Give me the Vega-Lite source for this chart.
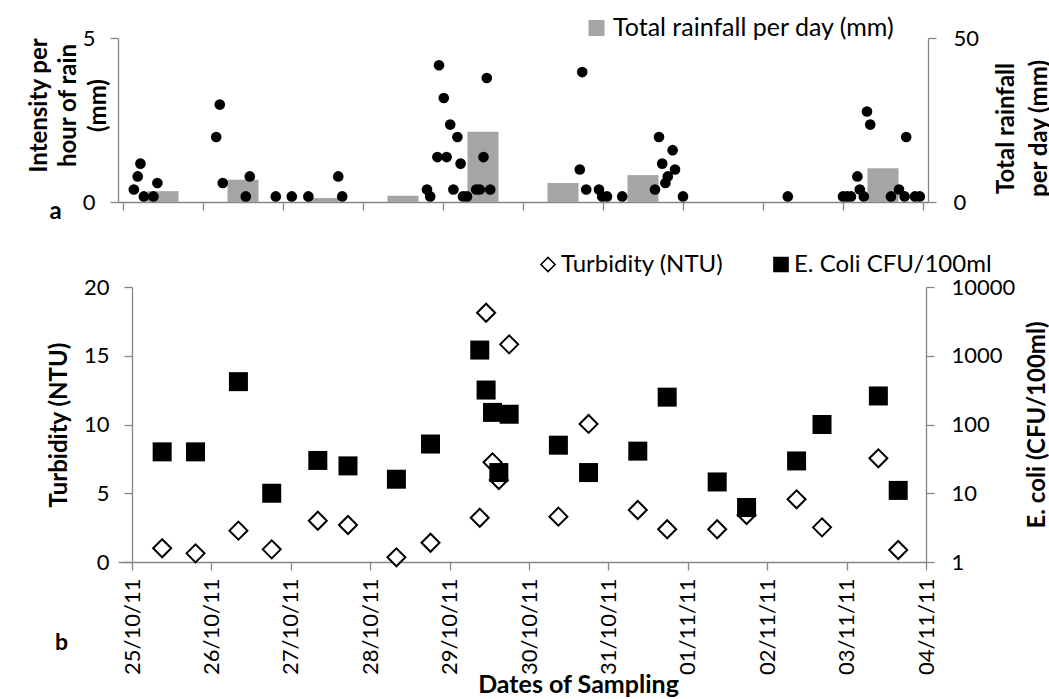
{
  "$schema": "https://vega.github.io/schema/vega-lite/v6.json",
  "padding": {"left": 27, "top": 15, "right": 0, "bottom": 0},
  "spacing": 29,
  "resolve": {"legend": {"color": "independent", "shape": "independent", "fill": "independent", "stroke": "independent"}},
  "datasets": {
    "rain": [
      {"date":"2011-10-25T03:15","intensity":0.38},
      {"date":"2011-10-25T04:25","intensity":0.78},
      {"date":"2011-10-25T05:14","intensity":1.17},
      {"date":"2011-10-25T06:15","intensity":0.17},
      {"date":"2011-10-25T09:07","intensity":0.17},
      {"date":"2011-10-25T10:19","intensity":0.58},
      {"date":"2011-10-26T03:58","intensity":1.98},
      {"date":"2011-10-26T05:02","intensity":2.97},
      {"date":"2011-10-26T05:56","intensity":0.58},
      {"date":"2011-10-26T12:50","intensity":0.17},
      {"date":"2011-10-26T14:02","intensity":0.78},
      {"date":"2011-10-26T21:50","intensity":0.17},
      {"date":"2011-10-27T02:38","intensity":0.17},
      {"date":"2011-10-27T07:36","intensity":0.17},
      {"date":"2011-10-27T16:34","intensity":0.78},
      {"date":"2011-10-27T17:46","intensity":0.17},
      {"date":"2011-10-28T19:12","intensity":0.38},
      {"date":"2011-10-28T20:10","intensity":0.17},
      {"date":"2011-10-28T22:19","intensity":1.37},
      {"date":"2011-10-28T22:48","intensity":4.17},
      {"date":"2011-10-29T00:14","intensity":3.17},
      {"date":"2011-10-29T01:05","intensity":1.37},
      {"date":"2011-10-29T02:10","intensity":2.36},
      {"date":"2011-10-29T03:07","intensity":0.38},
      {"date":"2011-10-29T04:19","intensity":1.98},
      {"date":"2011-10-29T05:17","intensity":1.17},
      {"date":"2011-10-29T06:00","intensity":0.17},
      {"date":"2011-10-29T07:12","intensity":0.17},
      {"date":"2011-10-29T09:58","intensity":0.38},
      {"date":"2011-10-29T11:02","intensity":0.38},
      {"date":"2011-10-29T12:09","intensity":1.37},
      {"date":"2011-10-29T13:08","intensity":3.78},
      {"date":"2011-10-29T14:10","intensity":0.38},
      {"date":"2011-10-30T17:02","intensity":0.99},
      {"date":"2011-10-30T17:46","intensity":3.96},
      {"date":"2011-10-30T18:58","intensity":0.38},
      {"date":"2011-10-30T22:48","intensity":0.38},
      {"date":"2011-10-30T23:46","intensity":0.17},
      {"date":"2011-10-31T01:12","intensity":0.17},
      {"date":"2011-10-31T05:46","intensity":0.17},
      {"date":"2011-10-31T15:36","intensity":0.38},
      {"date":"2011-10-31T16:48","intensity":1.98},
      {"date":"2011-10-31T17:46","intensity":1.17},
      {"date":"2011-10-31T18:43","intensity":0.58},
      {"date":"2011-10-31T19:26","intensity":0.78},
      {"date":"2011-10-31T20:53","intensity":1.58},
      {"date":"2011-10-31T21:36","intensity":0.99},
      {"date":"2011-11-01T00:00","intensity":0.17},
      {"date":"2011-11-02T07:26","intensity":0.17},
      {"date":"2011-11-03T00:00","intensity":0.17},
      {"date":"2011-11-03T01:12","intensity":0.17},
      {"date":"2011-11-03T02:24","intensity":0.17},
      {"date":"2011-11-03T04:19","intensity":0.78},
      {"date":"2011-11-03T05:02","intensity":0.38},
      {"date":"2011-11-03T06:14","intensity":0.17},
      {"date":"2011-11-03T07:12","intensity":2.76},
      {"date":"2011-11-03T08:10","intensity":2.36},
      {"date":"2011-11-03T14:24","intensity":0.17},
      {"date":"2011-11-03T16:48","intensity":0.38},
      {"date":"2011-11-03T18:29","intensity":0.17},
      {"date":"2011-11-03T18:58","intensity":1.98},
      {"date":"2011-11-03T21:36","intensity":0.17},
      {"date":"2011-11-03T23:02","intensity":0.17}
    ],
    "daily": [
      {"date":"2011-10-25T12:00","total":3.3},
      {"date":"2011-10-26T12:00","total":6.8},
      {"date":"2011-10-27T12:00","total":1.2},
      {"date":"2011-10-28T12:00","total":1.9},
      {"date":"2011-10-29T12:00","total":21.4},
      {"date":"2011-10-30T12:00","total":5.8},
      {"date":"2011-10-31T12:00","total":8.2},
      {"date":"2011-11-01T12:00","total":0},
      {"date":"2011-11-02T12:00","total":0},
      {"date":"2011-11-03T12:00","total":10.3}
    ],
    "samples": [
      {"date":"2011-10-25T09:07","series":"Turbidity (NTU)","value":1.0},
      {"date":"2011-10-25T19:12","series":"Turbidity (NTU)","value":0.63},
      {"date":"2011-10-26T08:10","series":"Turbidity (NTU)","value":2.28},
      {"date":"2011-10-26T18:14","series":"Turbidity (NTU)","value":0.92},
      {"date":"2011-10-27T08:10","series":"Turbidity (NTU)","value":3.0},
      {"date":"2011-10-27T17:17","series":"Turbidity (NTU)","value":2.69},
      {"date":"2011-10-28T07:55","series":"Turbidity (NTU)","value":0.34},
      {"date":"2011-10-28T18:14","series":"Turbidity (NTU)","value":1.4},
      {"date":"2011-10-29T09:07","series":"Turbidity (NTU)","value":3.22},
      {"date":"2011-10-29T11:02","series":"Turbidity (NTU)","value":18.13},
      {"date":"2011-10-29T12:58","series":"Turbidity (NTU)","value":7.25},
      {"date":"2011-10-29T14:53","series":"Turbidity (NTU)","value":5.96},
      {"date":"2011-10-29T18:00","series":"Turbidity (NTU)","value":15.83},
      {"date":"2011-10-30T08:53","series":"Turbidity (NTU)","value":3.3},
      {"date":"2011-10-30T18:00","series":"Turbidity (NTU)","value":10.04},
      {"date":"2011-10-31T08:53","series":"Turbidity (NTU)","value":3.78},
      {"date":"2011-10-31T17:46","series":"Turbidity (NTU)","value":2.38},
      {"date":"2011-11-01T08:53","series":"Turbidity (NTU)","value":2.38},
      {"date":"2011-11-01T17:46","series":"Turbidity (NTU)","value":3.42},
      {"date":"2011-11-02T08:53","series":"Turbidity (NTU)","value":4.56},
      {"date":"2011-11-02T16:34","series":"Turbidity (NTU)","value":2.52},
      {"date":"2011-11-03T09:36","series":"Turbidity (NTU)","value":7.54},
      {"date":"2011-11-03T15:36","series":"Turbidity (NTU)","value":0.87},
      {"date":"2011-10-25T09:07","series":"E. Coli CFU/100ml","value":40},
      {"date":"2011-10-25T19:12","series":"E. Coli CFU/100ml","value":40},
      {"date":"2011-10-26T08:10","series":"E. Coli CFU/100ml","value":420},
      {"date":"2011-10-26T18:14","series":"E. Coli CFU/100ml","value":10},
      {"date":"2011-10-27T08:10","series":"E. Coli CFU/100ml","value":30},
      {"date":"2011-10-27T17:17","series":"E. Coli CFU/100ml","value":25},
      {"date":"2011-10-28T07:55","series":"E. Coli CFU/100ml","value":16},
      {"date":"2011-10-28T18:14","series":"E. Coli CFU/100ml","value":52},
      {"date":"2011-10-29T09:07","series":"E. Coli CFU/100ml","value":1210},
      {"date":"2011-10-29T11:02","series":"E. Coli CFU/100ml","value":317},
      {"date":"2011-10-29T12:58","series":"E. Coli CFU/100ml","value":150},
      {"date":"2011-10-29T14:53","series":"E. Coli CFU/100ml","value":20},
      {"date":"2011-10-29T18:00","series":"E. Coli CFU/100ml","value":141},
      {"date":"2011-10-30T08:53","series":"E. Coli CFU/100ml","value":50},
      {"date":"2011-10-30T18:00","series":"E. Coli CFU/100ml","value":20},
      {"date":"2011-10-31T08:53","series":"E. Coli CFU/100ml","value":41},
      {"date":"2011-10-31T17:46","series":"E. Coli CFU/100ml","value":250},
      {"date":"2011-11-01T08:53","series":"E. Coli CFU/100ml","value":14.6},
      {"date":"2011-11-01T17:46","series":"E. Coli CFU/100ml","value":6.2},
      {"date":"2011-11-02T08:53","series":"E. Coli CFU/100ml","value":29.5},
      {"date":"2011-11-02T16:34","series":"E. Coli CFU/100ml","value":100},
      {"date":"2011-11-03T09:36","series":"E. Coli CFU/100ml","value":260},
      {"date":"2011-11-03T15:36","series":"E. Coli CFU/100ml","value":11}
    ]
  },
  "vconcat": [
    {
      "width": 810,
      "height": 164,
      "encoding": {
        "x": {
          "field": "date", "type": "temporal",
          "scale": {"domain": [{"year":2011,"month":10,"date":25},{"year":2011,"month":11,"date":4}]},
          "axis": {
            "values": [{"year":2011,"month":10,"date":25},{"year":2011,"month":10,"date":26},{"year":2011,"month":10,"date":27},{"year":2011,"month":10,"date":28},{"year":2011,"month":10,"date":29},{"year":2011,"month":10,"date":30},{"year":2011,"month":10,"date":31},{"year":2011,"month":11,"date":1},{"year":2011,"month":11,"date":2},{"year":2011,"month":11,"date":3},{"year":2011,"month":11,"date":4}],
            "labels": false,
            "title": "a", "titleX": -63, "titleY": 16, "titleAngle": 0,
            "titleAlign": "center", "titleBaseline": "alphabetic", "titleFontSize": 24
          }
        }
      },
      "layer": [
        {
          "data": {"name": "daily"},
          "mark": {"type": "bar", "size": 31},
          "encoding": {
            "y": {
              "field": "total", "type": "quantitative",
              "scale": {"domain": [0, 50]},
              "axis": {
                "orient": "right", "values": [0, 50], "labelPadding": 17,
                "title": ["Total rainfall", "per day (mm)"],
                "titleAngle": 270, "titleBaseline": "alphabetic", "titleAlign": "center",
                "titleLineHeight": 33, "titleX": 85, "titleY": 90
              }
            },
            "color": {
              "datum": "Total rainfall per day (mm)",
              "scale": {"range": ["#A5A5A5"]},
              "legend": {
                "orient": "none", "legendX": 466, "legendY": -22.5, "title": null,
                "symbolType": "square", "symbolSize": 256, "labelOffset": 4,
                "labelFontSize": 25, "labelColor": "#000000", "labelFont": "Lato", "labelLimit": 0
              }
            }
          }
        },
        {
          "data": {"name": "rain"},
          "mark": {"type": "circle", "size": 113, "color": "#000000", "opacity": 1},
          "encoding": {
            "y": {
              "field": "intensity", "type": "quantitative",
              "scale": {"domain": [0, 5]},
              "axis": {
                "orient": "left", "values": [0, 5], "labelPadding": 15,
                "title": ["Intensity per", "hour of rain", "(mm)"],
                "titleAngle": 270, "titleBaseline": "alphabetic", "titleAlign": "center",
                "titleLineHeight": 29.5, "titleX": -72, "titleY": 67
              }
            }
          }
        }
      ],
      "resolve": {"scale": {"y": "independent"}}
    },
    {
      "width": 808,
      "height": 275,
      "data": {"name": "samples"},
      "title": {
        "text": "b", "orient": "bottom", "anchor": "start", "frame": "group",
        "dx": -56.5, "offset": -47, "fontSize": 23, "fontWeight": "bold",
        "baseline": "alphabetic", "align": "center", "font": "Lato", "color": "#000000"
      },
      "encoding": {
        "x": {
          "field": "date", "type": "temporal",
          "scale": {"domain": [{"year":2011,"month":10,"date":24,"hours":19,"minutes":46},{"year":2011,"month":11,"date":4}]},
          "axis": {
            "values": [{"year":2011,"month":10,"date":25},{"year":2011,"month":10,"date":26},{"year":2011,"month":10,"date":27},{"year":2011,"month":10,"date":28},{"year":2011,"month":10,"date":29},{"year":2011,"month":10,"date":30},{"year":2011,"month":10,"date":31},{"year":2011,"month":11,"date":1},{"year":2011,"month":11,"date":2},{"year":2011,"month":11,"date":3},{"year":2011,"month":11,"date":4}],
            "format": "%d/%m/%y", "labelAngle": 270, "labelPadding": 8,
            "title": "Dates of Sampling", "titleX": 460, "titleY": 130,
            "titleBaseline": "alphabetic", "titleAlign": "center", "titleFontSize": 25
          }
        },
        "shape": {
          "field": "series", "type": "nominal",
          "scale": {"domain": ["Turbidity (NTU)", "E. Coli CFU/100ml"], "range": ["diamond", "square"]},
          "legend": {
            "orient": "none", "legendX": 418, "legendY": -34.5, "direction": "horizontal",
            "title": null, "symbolSize": 200, "labelFontSize": 24, "labelOffset": 1,
            "columnPadding": 45, "symbolStrokeWidth": 1.5,
            "labelColor": "#000000", "labelFont": "Lato", "labelLimit": 0
          }
        },
        "fill": {
          "field": "series", "type": "nominal",
          "scale": {"domain": ["Turbidity (NTU)", "E. Coli CFU/100ml"], "range": ["#ffffff", "#000000"]},
          "legend": {
            "orient": "none", "legendX": 418, "legendY": -34.5, "direction": "horizontal",
            "title": null, "symbolSize": 200, "labelFontSize": 24, "labelOffset": 1,
            "columnPadding": 45, "symbolStrokeWidth": 1.5,
            "labelColor": "#000000", "labelFont": "Lato", "labelLimit": 0
          }
        },
        "stroke": {
          "field": "series", "type": "nominal",
          "scale": {"domain": ["Turbidity (NTU)", "E. Coli CFU/100ml"], "range": ["#000000", "#000000"]},
          "legend": {
            "orient": "none", "legendX": 418, "legendY": -34.5, "direction": "horizontal",
            "title": null, "symbolSize": 200, "labelFontSize": 24, "labelOffset": 1,
            "columnPadding": 45, "symbolStrokeWidth": 1.5,
            "labelColor": "#000000", "labelFont": "Lato", "labelLimit": 0
          }
        }
      },
      "layer": [
        {
          "transform": [{"filter": "datum.series === 'Turbidity (NTU)'"}],
          "mark": {"type": "point", "filled": true, "size": 324, "strokeWidth": 2, "opacity": 1},
          "encoding": {
            "y": {
              "field": "value", "type": "quantitative",
              "scale": {"domain": [0, 20]},
              "axis": {
                "orient": "left", "offset": -14, "values": [0, 5, 10, 15, 20], "labelPadding": 15,
                "title": "Turbidity (NTU)",
                "titleAngle": 270, "titleBaseline": "alphabetic", "titleAlign": "center",
                "titleX": -66, "titleY": 137.5
              }
            }
          }
        },
        {
          "transform": [{"filter": "datum.series === 'E. Coli CFU/100ml'"}],
          "mark": {"type": "point", "filled": true, "size": 361, "strokeWidth": 0, "opacity": 1},
          "encoding": {
            "y": {
              "field": "value", "type": "quantitative",
              "scale": {"type": "log", "domain": [1, 10000]},
              "axis": {
                "orient": "right", "values": [1, 10, 100, 1000, 10000], "format": "d",
                "labelPadding": 17,
                "title": "E. coli (CFU/100ml)",
                "titleAngle": 270, "titleBaseline": "alphabetic", "titleAlign": "center",
                "titleX": 118, "titleY": 137.5
              }
            }
          }
        }
      ],
      "resolve": {"scale": {"y": "independent"}}
    }
  ],
  "config": {
    "font": "Lato",
    "view": {"stroke": null},
    "axis": {
      "grid": false,
      "domainColor": "#868686", "tickColor": "#868686", "domainWidth": 1.3, "tickWidth": 1.3,
      "tickSize": 8,
      "labelFont": "Lato", "labelFontSize": 22, "labelColor": "#000000",
      "titleFont": "Lato", "titleFontSize": 24, "titleFontWeight": "bold", "titleColor": "#000000"
    },
    "legend": {"padding": 0}
  }
}
